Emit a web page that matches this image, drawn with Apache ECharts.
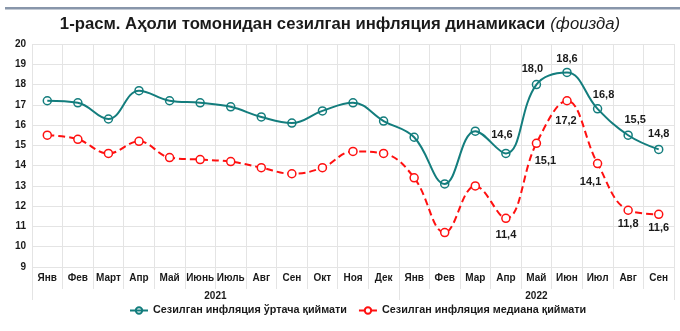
<!DOCTYPE html>
<html>
<head>
<meta charset="utf-8">
<script src="https://cdn.jsdelivr.net/npm/echarts@6/dist/echarts.min.js"></script>
<style>
html,body{margin:0;padding:0;background:#fff;}
#c{width:680px;height:331px;}
</style>
</head>
<body>
<div id="c"></div>
<script>
// ---- data ----
var months = ['Янв','Фев','Март','Апр','Май','Июнь','Июль','Авг','Сен','Окт','Ноя','Дек',
              'Янв','Фев','Мар','Апр','Май','Июн','Июл','Авг','Сен'];
var years = ['2021','2022'];
var yearMonthCounts = [12, 9];
var meanValues = [17.2,17.1,16.3,17.7,17.2,17.1,16.9,16.4,16.1,16.7,17.1,16.2,
                  15.4,13.1,15.7,14.6,18.0,18.6,16.8,15.5,14.8];
var medianValues = [15.5,15.3,14.6,15.2,14.4,14.3,14.2,13.9,13.6,13.9,14.7,14.6,
                    13.4,10.7,13.0,11.4,15.1,17.2,14.1,11.8,11.6];
var seriesNames = ['Сезилган инфляция ўртача қиймати','Сезилган инфляция медиана қиймати'];
var yTicks = {min: 9, max: 20, interval: 1};

// label placement (style only)
var meanLabelOffsets = {15:[-4,-3],16:[-4,0],17:[0,2],18:[6,1],19:[7,0],20:[0,0]};
var medianLabelOffsets = {15:[0,1],16:[9,2],17:[-1,5],18:[-7,3],19:[0,-2],20:[0,-2]};

var TEAL = '#137d7d', RED = '#ff1010', GRID = '#e4e4e4', TXT = '#1a1a1a';
var FONT = 'Liberation Sans, Arial, sans-serif';

function fmt(v){ return v.toFixed(1).replace('.', ','); }
function buildData(vals, offsets, pos){
  return vals.map(function(v,i){
    var d = {value: v};
    if (offsets[i]) {
      d.label = {show: true, position: pos, offset: offsets[i],
        formatter: function(p){ return fmt(p.value); },
        fontFamily: FONT, fontWeight: 'bold', fontSize: 11, color: TXT};
    }
    return d;
  });
}

// year axis built on half-month slots
var totalHalf = months.length * 2;
var yearSlots = [];
for (var k = 0; k <= totalHalf; k++) yearSlots.push('');
var yearTickIdx = [0];
var acc = 0;
years.forEach(function(y, i){
  var c = yearMonthCounts[i];
  yearSlots[acc*2 + c] = y;
  acc += c;
  yearTickIdx.push(acc*2);
});

var chart = echarts.init(document.getElementById('c'), null, {renderer: 'canvas'});
chart.setOption({
  animation: false,
  backgroundColor: '#fff',
  title: {
    left: 'center', top: 10,
    text: '{b|1-расм. Аҳоли томонидан сезилган инфляция динамикаси} {i|(фоизда)}',
    textStyle: {
      rich: {
        b: {fontFamily: FONT, fontWeight: 'bold', fontSize: 16.7, color: TXT},
        i: {fontFamily: FONT, fontStyle: 'italic', fontWeight: 'normal', fontSize: 16.7, color: TXT}
      }
    }
  },
  graphic: [{
    type: 'rect', shape: {x: 5, y: 7, width: 675, height: 2.5},
    style: {fill: '#8896aa'}, silent: true
  }],
  legend: {
    bottom: 10, left: 124, itemGap: 11, itemWidth: 18, itemHeight: 8,
    textStyle: {fontFamily: FONT, fontWeight: 'bold', fontSize: 10.8, color: TXT},
    data: seriesNames
  },
  grid: {left: 32, right: 6, top: 44, bottom: 64, containLabel: false},
  xAxis: [{
    type: 'category', data: months, boundaryGap: true,
    axisLine: {show: false},
    axisTick: {show: true, length: 22, lineStyle: {color: GRID}},
    axisLabel: {interval: 0, margin: 6, fontFamily: FONT, fontWeight: 'bold', fontSize: 10, color: TXT},
    splitLine: {show: true, lineStyle: {color: GRID}}
  },{
    type: 'category', data: yearSlots, boundaryGap: false, position: 'bottom',
    axisLine: {show: false},
    axisTick: {show: true, length: 33, interval: function(idx){ return yearTickIdx.indexOf(idx) >= 0; },
      lineStyle: {color: GRID}},
    axisLabel: {interval: 0, margin: 24, fontFamily: FONT, fontWeight: 'bold', fontSize: 10, color: TXT},
    splitLine: {show: false}
  }],
  yAxis: {
    type: 'value', min: yTicks.min, max: yTicks.max, interval: yTicks.interval,
    axisLine: {show: false}, axisTick: {show: false},
    axisLabel: {margin: 6, fontFamily: FONT, fontWeight: 'bold', fontSize: 10, color: TXT},
    splitLine: {show: true, lineStyle: {color: GRID}}
  },
  series: [{
    name: seriesNames[0], type: 'line', smooth: 0.4,
    data: buildData(meanValues, meanLabelOffsets, 'top'),
    symbol: 'circle', symbolSize: 8,
    lineStyle: {color: TEAL, width: 2},
    itemStyle: {color: 'rgba(255,255,255,0)', borderColor: TEAL, borderWidth: 1.5},
    z: 3
  },{
    name: seriesNames[1], type: 'line', smooth: 0.4,
    data: buildData(medianValues, medianLabelOffsets, 'bottom'),
    symbol: 'circle', symbolSize: 8,
    lineStyle: {color: RED, width: 2, type: [7, 4]},
    itemStyle: {color: '#fff', borderColor: RED, borderWidth: 1.5},
    z: 2
  }]
});
</script>
</body>
</html>
